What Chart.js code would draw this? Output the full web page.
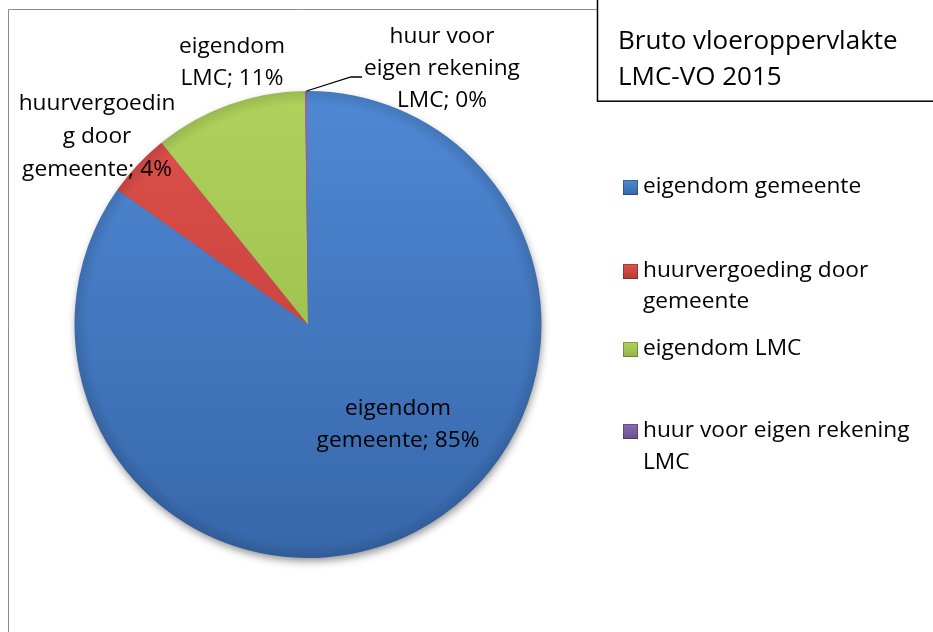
<!DOCTYPE html>
<html>
<head>
<meta charset="utf-8">
<script src="https://cdn.jsdelivr.net/npm/chart.js@4/dist/chart.umd.min.js"></script>
<style>
html,body{margin:0;padding:0;background:#fff;}
#wrap{width:933px;height:632px;position:relative;}
</style>
</head>
<body>
<div id="wrap"><canvas id="c" width="933" height="632"></canvas></div>
<script>
// ---- data ----
const categories = ['eigendom gemeente', 'huurvergoeding door gemeente', 'eigendom LMC', 'huur voor eigen rekening LMC'];
const shares = [84.8, 4.4, 10.6, 0.2];
const labelWraps = [['eigendom', 'gemeente'], ['huurvergoedin', 'g door', 'gemeente'], ['eigendom', 'LMC'], ['huur voor', 'eigen rekening', 'LMC']];
const legendWraps = [['eigendom gemeente'], ['huurvergoeding door', 'gemeente'], ['eigendom LMC'], ['huur voor eigen rekening', 'LMC']];
const titleLines = ['Bruto vloeroppervlakte', 'LMC-VO 2015'];
const sliceColors = [['#4f88d4', '#3767aa'], ['#e0504b', '#b73a36'], ['#b0d25c', '#92b444'], ['#8a6cb0', '#6a4f8e']];

// ---- layout (positions only) ----
const FONT = '22.7px "Open Sans", sans-serif';
const TITLE_FONT = '26px "Open Sans", sans-serif';
const labelPos = [
  {x: 398, ys: [409, 441]},
  {x: 97, ys: [104, 137, 170]},
  {x: 232, ys: [47, 79]},
  {x: 442, ys: [37, 69, 101]}
];
const legendPos = [
  {ys: [187]},
  {ys: [271, 302]},
  {ys: [349]},
  {ys: [431, 463]}
];

function pct(v) {
  const tot = shares.reduce((a, b) => a + b, 0);
  return Math.round(v / tot * 100) + '%';
}

function sliceFill(ctx) {
  const chart = ctx.chart;
  const i = ctx.dataIndex;
  const area = chart.chartArea;
  if (!area) return sliceColors[i][0];
  const g = chart.ctx.createLinearGradient(0, area.top, 0, area.bottom);
  g.addColorStop(0, sliceColors[i][0]);
  g.addColorStop(1, sliceColors[i][1]);
  return g;
}

const decor = {
  id: 'decor',
  beforeDraw(chart) {
    const c = chart.ctx;
    c.save();
    c.fillStyle = '#fff';
    c.fillRect(0, 0, chart.width, chart.height);
    c.strokeStyle = '#8c8c8c';
    c.lineWidth = 1;
    c.beginPath();
    c.moveTo(8.5, 640);
    c.lineTo(8.5, 9.5);
    c.lineTo(597, 9.5);
    c.stroke();
    c.restore();
  },
  beforeDatasetsDraw(chart) {
    const arc = chart.getDatasetMeta(0).data[0];
    if (!arc) return;
    const c = chart.ctx;
    c.save();
    c.shadowColor = 'rgba(0,0,0,0.45)';
    c.shadowBlur = 9;
    c.shadowOffsetX = 1;
    c.shadowOffsetY = 4;
    c.fillStyle = '#3767aa';
    c.beginPath();
    c.arc(arc.x, arc.y, arc.outerRadius - 1, 0, Math.PI * 2);
    c.fill();
    c.restore();
  },
  afterDatasetsDraw(chart) {
    const c = chart.ctx;
    const meta = chart.getDatasetMeta(0);
    c.save();
    const a0 = meta.data[0];
    const rim = c.createRadialGradient(a0.x, a0.y, a0.outerRadius - 14, a0.x, a0.y, a0.outerRadius);
    rim.addColorStop(0, 'rgba(0,0,0,0)');
    rim.addColorStop(1, 'rgba(0,0,0,0.12)');
    c.fillStyle = rim;
    c.beginPath();
    c.arc(a0.x, a0.y, a0.outerRadius, 0, Math.PI * 2);
    c.fill();

    c.fillStyle = '#000';
    c.font = FONT;
    c.textAlign = 'center';
    c.textBaseline = 'middle';
    labelWraps.forEach((lines, i) => {
      const p = labelPos[i];
      lines.forEach((t, k) => {
        const txt = k === lines.length - 1 ? t + '; ' + pct(shares[i]) : t;
        c.fillText(txt, p.x, p.ys[k]);
      });
    });
    const a3 = meta.data[3];
    const mid = (a3.startAngle + a3.endAngle) / 2;
    const ex = a3.x + Math.cos(mid) * a3.outerRadius;
    const ey = a3.y + Math.sin(mid) * a3.outerRadius;
    c.strokeStyle = '#000';
    c.lineWidth = 1.3;
    c.beginPath();
    c.moveTo(ex, ey);
    c.lineTo(351, 77);
    c.lineTo(362, 77);
    c.stroke();

    c.fillStyle = '#fff';
    c.fillRect(597, 0, 340, 101);
    c.strokeStyle = '#000';
    c.lineWidth = 1.5;
    c.strokeRect(597.5, -2, 345, 103.2);
    c.fillStyle = '#000';
    c.textAlign = 'left';
    c.font = TITLE_FONT;
    c.fillText(titleLines[0], 618, 42);
    c.fillText(titleLines[1], 618, 78);

    c.font = FONT;
    legendWraps.forEach((lines, i) => {
      const p = legendPos[i];
      const sy = p.ys[0] - 7;
      const g = c.createLinearGradient(0, sy, 0, sy + 15);
      g.addColorStop(0, sliceColors[i][0]);
      g.addColorStop(1, sliceColors[i][1]);
      c.fillStyle = g;
      c.fillRect(623, sy, 15, 15);
      c.strokeStyle = 'rgba(0,0,0,0.25)';
      c.lineWidth = 1;
      c.strokeRect(623.5, sy + 0.5, 14, 14);
      c.fillStyle = '#000';
      lines.forEach((t, k) => c.fillText(t, 643, p.ys[k]));
    });
    c.restore();
  }
};

new Chart(document.getElementById('c'), {
  type: 'pie',
  data: {
    labels: categories,
    datasets: [{
      data: shares,
      backgroundColor: sliceFill,
      borderWidth: 0,
      hoverOffset: 0
    }]
  },
  options: {
    responsive: false,
    animation: false,
    devicePixelRatio: 1,
    layout: {padding: {left: 74.5, right: 391.5, top: 91, bottom: 74}},
    plugins: {legend: {display: false}, tooltip: {enabled: false}}
  },
  plugins: [decor]
});
</script>
</body>
</html>
